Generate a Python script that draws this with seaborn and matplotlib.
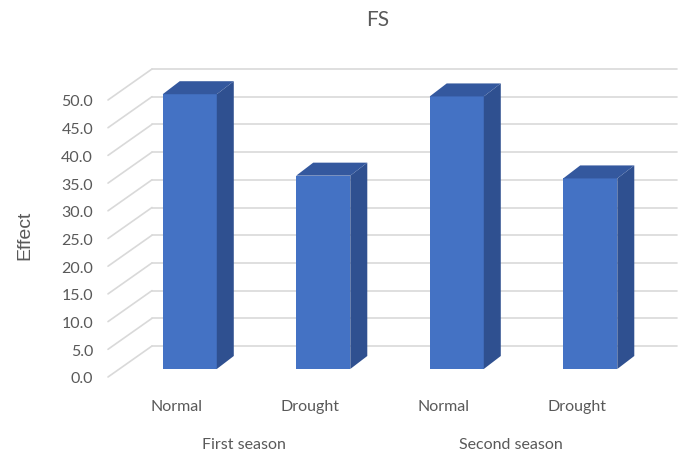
import matplotlib
matplotlib.use("Agg")
import matplotlib.pyplot as plt
import matplotlib.transforms as mtransforms
from matplotlib.patches import Polygon
from matplotlib.lines import Line2D
import seaborn as sns
import pandas as pd

# データ
seasons = ["First season", "First season", "Second season", "Second season"]
treatments = ["Normal", "Drought", "Normal", "Drought"]
effect = [49.6, 34.9, 49.2, 34.4]
y_ticks = [0, 5, 10, 15, 20, 25, 30, 35, 40, 45, 50]
season_names = ["First season", "Second season"]

df = pd.DataFrame({"season": seasons, "treatment": treatments, "Effect": effect})
df["bar"] = df["season"] + " / " + df["treatment"]  # 重複するラベルを区別する

sns.set_theme(style="white")
plt.rcParams["font.family"] = ["Lato", "DejaVu Sans"]
text_color = "#595959"
grid_color = "#D9D9D9"
front_color = "#4472C4"
side_color = "#2F5090"
top_color = "#34589E"

W, H, DPI = 679, 456, 100
fig = plt.figure(figsize=(W / DPI, H / DPI), dpi=DPI, facecolor="white")
# 棒の前面がある平面
ax = fig.add_axes([123 / W, 86 / H, 534 / W, 277 / H])
ax.patch.set_visible(False)

sns.barplot(data=df, x="bar", y="Effect", color=front_color, saturation=1,
            width=0.405, ax=ax, edgecolor="none", linewidth=0)
ax.set_xlim(-0.5, len(df) - 0.5)
ax.set_ylim(0, 50)
for s in ax.spines.values():
    s.set_visible(False)
ax.set_xlabel("")
ax.set_ylabel("")

# 目盛り（手前の面）
ax.set_yticks(y_ticks)
ax.set_yticklabels([f"{v:.1f}" for v in y_ticks])
ax.set_xticks(range(len(df)))
ax.set_xticklabels(treatments)
ax.tick_params(axis="y", length=0, pad=21.5, labelsize=11.5, labelcolor=text_color)
ax.tick_params(axis="x", length=0, pad=21.5, labelsize=11.5, labelcolor=text_color)
down = mtransforms.ScaledTranslation(0, -8 / DPI, fig.dpi_scale_trans)
left = mtransforms.ScaledTranslation(-13 / DPI, 0, fig.dpi_scale_trans)
for lbl in ax.get_yticklabels():
    lbl.set_transform(lbl.get_transform() + down)
for lbl in ax.get_xticklabels():
    lbl.set_transform(lbl.get_transform() + left)

trans = mtransforms.blended_transform_factory(ax.transData, ax.transAxes) + left
for i, name in enumerate(season_names):
    ax.text(2 * i + 0.5, -0.27, name, transform=trans, ha="center", va="center",
            fontsize=11.5, color=text_color)

# 奥の壁のグリッド線と斜めの線
ident = mtransforms.IdentityTransform()
for v in y_ticks:
    yd = ax.transData.transform((0, v))[1]
    fig.add_artist(Line2D([152, 677], [yd + 23, yd + 23], transform=ident,
                          color=grid_color, lw=1.2, zorder=-2))
    fig.add_artist(Line2D([108, 152], [yd - 8, yd + 23], transform=ident,
                          color=grid_color, lw=1.2, zorder=-2))

# 3D風の側面と上面
dx, dy = 17, 13
for bar in ax.patches:
    x0, w, h = bar.get_x(), bar.get_width(), bar.get_height()
    (px0, py0), (px1, py1) = ax.transData.transform([(x0, 0), (x0 + w, h)])
    side = [(px1, py0), (px1 + dx, py0 + dy), (px1 + dx, py1 + dy), (px1, py1)]
    top = [(px0, py1), (px0 + dx, py1 + dy), (px1 + dx, py1 + dy), (px1, py1)]
    fig.add_artist(Polygon(side, closed=True, transform=ident, facecolor=side_color,
                           edgecolor="none", zorder=1))
    fig.add_artist(Polygon(top, closed=True, transform=ident, facecolor=top_color,
                           edgecolor="none", zorder=1))

fig.text(378 / W, 1 - 20 / H, "FS", ha="center", va="center", fontsize=15, color=text_color)
fig.text(24.5 / W, 1 - 235 / H, "Effect", rotation=90, ha="center", va="center",
         fontsize=14, color=text_color, family=["Liberation Sans", "DejaVu Sans"])

fig.savefig("out.png", dpi=DPI, facecolor="white")
plt.close(fig)
